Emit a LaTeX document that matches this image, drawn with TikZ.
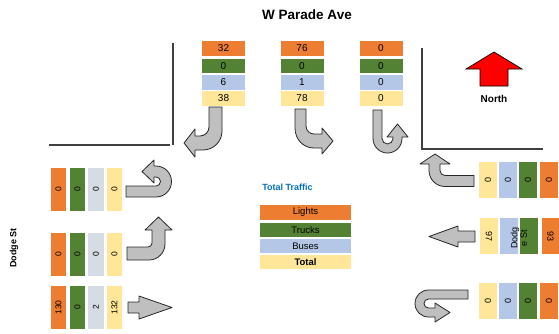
\documentclass[tikz,border=0pt]{standalone}
\usepackage{fontspec}
\setmainfont{Liberation Sans}
\definecolor{corange}{HTML}{ED7D31}
\definecolor{cgreen}{HTML}{548235}
\definecolor{cblue}{HTML}{B4C7E7}
\definecolor{cyellow}{HTML}{FFE699}
\definecolor{cgray}{HTML}{D6DCE4}
\definecolor{ctitle}{HTML}{0070C0}
\definecolor{arrowfill}{HTML}{BFBFBF}
\definecolor{linegray}{HTML}{404040}
\tikzset{
  cell/.style={inner sep=0pt, outer sep=0pt, text=black},
  topcell/.style={cell, minimum width=43pt, minimum height=14.5pt, font=\fontsize{10}{10}\selectfont},
  leftcell/.style={cell, minimum width=43pt, minimum height=15.5pt, rotate=90, font=\fontsize{8.5}{9}\selectfont},
  rightcell/.style={cell, minimum width=36pt, minimum height=18pt, rotate=-90, font=\fontsize{9}{9}\selectfont},
  legcell/.style={cell, minimum width=91pt, minimum height=14.5pt, font=\fontsize{9.5}{10}\selectfont},
  turnarrow/.style={fill=arrowfill, draw=black!85, line width=0.8pt, line join=round},
  roadline/.style={draw=linegray, line width=1.1pt},
  lbl/.style={inner sep=0pt, font=\bfseries\fontsize{9}{10}\selectfont}
}
\begin{document}
\begin{tikzpicture}[x=1pt,y=-1pt]
\useasboundingbox (0,0) rectangle (559,333);
\fill[white] (0,0) rectangle (559,333);

% titles
\node[lbl, font=\bfseries\fontsize{13.5}{14}\selectfont] (title) at (307,15) {W Parade Ave};
\node[lbl, rotate=90] (dodgeL) at (14,248) {Dodge St};
\node[lbl, text=ctitle] (tt) at (287.5,187) {Total Traffic};

% road corner lines
\coordinate (la) at (173,43); \coordinate (lb) at (173,145);
\coordinate (lc) at (49,145); \coordinate (ld) at (170,145);
\draw[roadline] (la) -- (lb);
\draw[roadline] (lc) -- (ld);
\coordinate (ra) at (422,48); \coordinate (rb) at (422,149); \coordinate (rc) at (543,149);
\draw[roadline] (ra) -- (rb) -- (rc);

% top cells
\foreach \n/\x/\a/\b/\c/\d in {t1/223.5/32/0/6/38, t2/302/76/0/1/78, t3/381/0/0/0/0}{
  \node[topcell, fill=corange] (\n a) at (\x,48.5) {\a};
  \node[topcell, fill=cgreen] (\n b) at (\x,66) {\b};
  \node[topcell, fill=cblue] (\n c) at (\x,82.25) {\c};
  \node[topcell, fill=cyellow] (\n d) at (\x,98.5) {\d};
}

% left cells
\foreach \n/\y/\a/\b/\c/\d in {l1/189.5/0/0/0/0, l2/254.5/0/0/0/0, l3/307.5/130/0/2/132}{
  \node[leftcell, fill=corange] (\n a) at (58.5,\y) {\a};
  \node[leftcell, fill=cgreen] (\n b) at (77.5,\y) {\b};
  \node[leftcell, fill=cgray] (\n c) at (96,\y) {\c};
  \node[leftcell, fill=cyellow] (\n d) at (114.5,\y) {\d};
}

% right cells
\foreach \n/\y/\s/\a/\b/\c/\d in {r1/180/0/0/0/0/0, r3/300.5/0/0/0/0/0}{
  \node[rightcell, fill=cyellow] (\n d) at (488,\y) {\d};
  \node[rightcell, fill=cblue] (\n c) at (508,\y) {\c};
  \node[rightcell, fill=cgreen] (\n b) at (528,\y) {\b};
  \node[rightcell, fill=corange] (\n a) at (549,\y) {\a};
}
\node[rightcell, fill=cyellow] (r2d) at (489,236) {97};
\node[rightcell, fill=cblue] (r2c) at (509,236) {};
\node[rightcell, fill=cgreen] (r2b) at (529,236) {};
\node[rightcell, fill=corange] (r2a) at (550.5,236) {93};
\node[lbl, font=\fontsize{9}{9.5}\selectfont, rotate=90, align=center] (dodgeR) at (519,238) {Dodg\\e St};

% legend
\node[legcell, fill=corange] (lg1) at (305.5,212.5) {Lights};
\node[legcell, fill=cgreen] (lg2) at (305.5,230) {Trucks};
\node[legcell, fill=cblue] (lg3) at (305.5,246) {Buses};
\node[legcell, fill=cyellow, font=\bfseries\fontsize{9.5}{10}\selectfont] (lg4) at (305.5,262) {Total};

% north arrow
\draw[fill=red, draw=black, line width=0.7pt, line join=miter]
  (480,86) -- (480,69) -- (466,69) -- (494,52) -- (522,69) -- (508,69) -- (508,86) -- cycle;
\node[lbl, font=\bfseries\fontsize{10}{10}\selectfont] (north) at (494,99) {North};

% top arrows
\draw[turnarrow] (209,107) -- (222,107) -- (222,131)
  .. controls (222,141.5) and (213.5,150) .. (203,150) -- (195,150) -- (195,157)
  -- (184,143) -- (195,129) -- (195,136) -- (200,136)
  .. controls (205,136) and (209,132) .. (209,127) -- cycle;
\draw[turnarrow] (295,109) -- (295,128)
  .. controls (295,139) and (303,148) .. (314,148) -- (322,148) -- (322,154)
  -- (333,141) -- (322,128) -- (322,134) -- (314,134)
  .. controls (309.6,134) and (306,130.4) .. (306,126) -- (306,109) -- cycle;
\draw[turnarrow] (373,110) -- (373,138.5)
  .. controls (373,146.5) and (379.5,153) .. (387.5,153)
  .. controls (395.5,153) and (402,146.5) .. (402,138.5) -- (402,137) -- (408,137)
  -- (397.5,124) -- (387,137) -- (393,137) -- (393,138.5)
  .. controls (393,141.5) and (390.5,144) .. (387.5,144)
  .. controls (384.5,144) and (382,141.5) .. (382,138.5) -- (382,110) -- cycle;

% right arrows
\draw[turnarrow] (474,175.5) -- (474,186.5) -- (445,186.5)
  .. controls (436.2,186.5) and (429,179.3) .. (429,170.5) -- (429,164) -- (420,164)
  -- (435,154) -- (450,164) -- (440,164) -- (440,170.5)
  .. controls (440,173.3) and (442.2,175.5) .. (445,175.5) -- cycle;
\draw[turnarrow] (475,231) -- (475,242) -- (458,242) -- (458,247) -- (429,236.5)
  -- (458,226) -- (458,231) -- cycle;
\draw[turnarrow] (468,290) -- (428.5,290)
  .. controls (421,290) and (415,296) .. (415,303.5)
  .. controls (415,311) and (421,317) .. (428.5,317) -- (435,317) -- (435,322)
  -- (450,312.5) -- (435,303) -- (435,308) -- (428.5,308)
  .. controls (426,308) and (424,306) .. (424,303.5)
  .. controls (424,301) and (426,299) .. (428.5,299) -- (468,299) -- cycle;

% left arrows
\draw[turnarrow] (126,186) -- (126,197) -- (156,197)
  .. controls (164.6,197) and (171.5,190.1) .. (171.5,181.5)
  .. controls (171.5,172.9) and (164.6,166) .. (156,166) -- (154,166) -- (154,160)
  -- (142,171.5) -- (154,183) -- (154,177) -- (156,177)
  .. controls (158.5,177) and (160.5,179) .. (160.5,181.5)
  .. controls (160.5,184) and (158.5,186) .. (156,186) -- cycle;
\draw[turnarrow] (127,247) -- (127,260) -- (149,260)
  .. controls (157.8,260) and (165,252.8) .. (165,244) -- (165,230) -- (172,230)
  -- (158.5,217) -- (145,230) -- (152,230) -- (152,243)
  .. controls (152,245.2) and (150.2,247) .. (148,247) -- cycle;
\draw[turnarrow] (128,302) -- (139,302) -- (139,296) -- (172,307.5) -- (139,319)
  -- (139,313) -- (128,313) -- cycle;
\end{tikzpicture}
\end{document}
